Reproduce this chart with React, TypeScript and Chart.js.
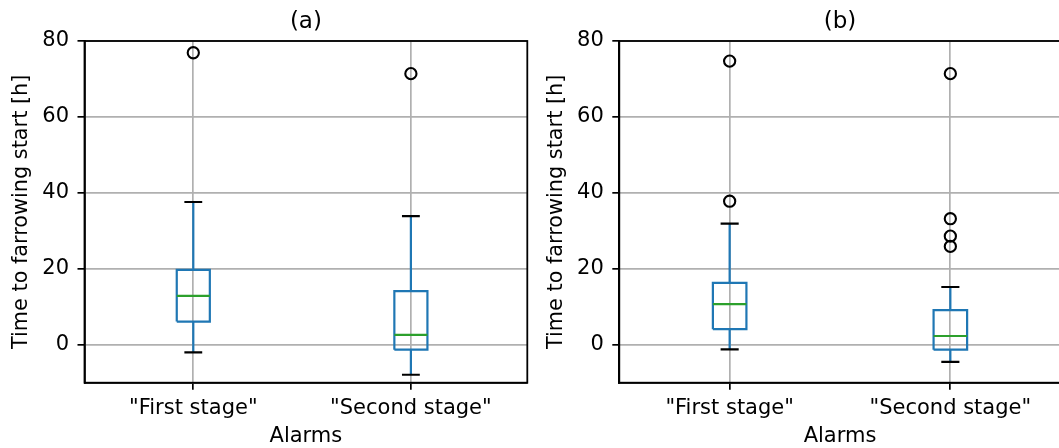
import React, { useEffect, useRef } from 'react';
import { Chart, registerables } from 'chart.js';
Chart.register(...registerables);

// ---------- data ----------
const categories = ['"First stage"', '"Second stage"'];
const yTicks = [0, 20, 40, 60, 80];

// panel (a)
const aWhiskerLow = [-2.0, -7.9];
const aQ1 = [6.1, -1.3];
const aMedian = [12.85, 2.6];
const aQ3 = [19.7, 14.1];
const aWhiskerHigh = [37.6, 33.9];
const aOutliers = [[76.9], [71.4]];

// panel (b)
const bWhiskerLow = [-1.2, -4.5];
const bQ1 = [4.1, -1.3];
const bMedian = [10.7, 2.3];
const bQ3 = [16.3, 9.1];
const bWhiskerHigh = [31.9, 15.2];
const bOutliers = [[37.8, 74.7], [25.9, 28.6, 33.2, 71.4]];

// ---------- styling ----------
const FONT = 'DejaVu Sans';
const BLUE = '#1f77b4';
const GREEN = '#2ca02c';
const GRID = '#b0b0b0';
const BOX_HALF = 0.076;
const CAP_HALF = 0.041;

type Stats = {
  lo: number[];
  q1: number[];
  med: number[];
  q3: number[];
  hi: number[];
  out: number[][];
};

const GAP = (x: number) => ({ x, y: null as any });

function buildDatasets(s: Stats) {
  const boxes: any[] = [];
  const whiskers: any[] = [];
  const caps: any[] = [];
  const medians: any[] = [];
  const fliers: any[] = [];
  categories.forEach((_, i) => {
    const x = i + 1;
    boxes.push(
      { x: x - BOX_HALF, y: s.q1[i] },
      { x: x + BOX_HALF, y: s.q1[i] },
      { x: x + BOX_HALF, y: s.q3[i] },
      { x: x - BOX_HALF, y: s.q3[i] },
      { x: x - BOX_HALF, y: s.q1[i] },
      GAP(x)
    );
    whiskers.push(
      { x, y: s.q3[i] },
      { x, y: s.hi[i] },
      GAP(x),
      { x, y: s.q1[i] },
      { x, y: s.lo[i] },
      GAP(x)
    );
    caps.push(
      { x: x - CAP_HALF, y: s.hi[i] },
      { x: x + CAP_HALF, y: s.hi[i] },
      GAP(x),
      { x: x - CAP_HALF, y: s.lo[i] },
      { x: x + CAP_HALF, y: s.lo[i] },
      GAP(x)
    );
    medians.push(
      { x: x - BOX_HALF, y: s.med[i] },
      { x: x + BOX_HALF, y: s.med[i] },
      GAP(x)
    );
    s.out[i].forEach((v) => fliers.push({ x, y: v }));
  });
  const lineBase = {
    type: 'line' as const,
    showLine: true,
    pointRadius: 0,
    pointHoverRadius: 0,
    borderWidth: 2.2,
    spanGaps: false,
    tension: 0,
    fill: false,
  };
  return [
    {
      type: 'scatter' as const,
      label: 'fliers',
      data: fliers,
      pointStyle: 'circle',
      pointRadius: 5.6,
      borderWidth: 2.1,
      borderColor: '#000',
      backgroundColor: 'rgba(0,0,0,0)',
    },
    { ...lineBase, label: 'medians', data: medians, borderColor: GREEN },
    { ...lineBase, label: 'boxes', data: boxes, borderColor: BLUE },
    { ...lineBase, label: 'caps', data: caps, borderColor: '#000' },
    { ...lineBase, label: 'whiskers', data: whiskers, borderColor: BLUE },
  ];
}

const framePlugin = {
  id: 'frame',
  afterDraw(chart: any) {
    const { ctx, chartArea } = chart;
    ctx.save();
    ctx.strokeStyle = '#000';
    ctx.lineWidth = 1.8;
    ctx.strokeRect(
      chartArea.left,
      chartArea.top,
      chartArea.right - chartArea.left,
      chartArea.bottom - chartArea.top
    );
    ctx.restore();
  },
};

type PanelProps = {
  left: number;
  width: number;
  title: string;
  stats: Stats;
  xMax: number;
  yAxisWidth: number;
  padRight: number;
};

function Panel({ left, width, title, stats, xMax, yAxisWidth, padRight }: PanelProps) {
  const ref = useRef<HTMLCanvasElement | null>(null);
  useEffect(() => {
    if (!ref.current) return;
    const chart = new Chart(ref.current, {
      type: 'scatter',
      data: { datasets: buildDatasets(stats) as any },
      options: {
        animation: false,
        responsive: false,
        devicePixelRatio: 1,
        layout: { padding: { left: 0, right: padRight, top: 0, bottom: 0 } },
        plugins: {
          legend: { display: false },
          tooltip: { enabled: false },
          title: {
            display: true,
            fullSize: false,
            text: title,
            color: '#000',
            font: { family: FONT, size: 23, weight: 'normal' },
            padding: { top: 8, bottom: 5.4 },
          },
        },
        scales: {
          x: {
            type: 'linear',
            min: 0.5,
            max: xMax,
            afterFit: (s: any) => {
              s.height = 65.3;
            },
            afterBuildTicks: (s: any) => {
              s.ticks = categories.map((_, i) => ({ value: i + 1 }));
            },
            ticks: {
              color: '#000',
              font: { family: FONT, size: 21 },
              padding: 6,
              maxRotation: 0,
              callback: (v: any) => categories[Number(v) - 1] ?? '',
            },
            grid: {
              color: GRID,
              lineWidth: 1.7,
              tickColor: '#000',
              tickLength: 7,
              drawTicks: true,
            },
            border: { display: true, color: '#000', width: 1.8 },
            title: {
              display: true,
              text: 'Alarms',
              color: '#000',
              font: { family: FONT, size: 21 },
              padding: { top: 0, bottom: -1.5 },
            },
          },
          y: {
            type: 'linear',
            min: -10,
            max: 80,
            afterFit: (s: any) => {
              s.width = yAxisWidth;
            },
            afterBuildTicks: (s: any) => {
              s.ticks = yTicks.map((v) => ({ value: v }));
            },
            ticks: {
              color: '#000',
              font: { family: FONT, size: 21 },
              padding: 8.5,
            },
            grid: {
              color: GRID,
              lineWidth: 1.7,
              tickColor: '#000',
              tickLength: 7,
              drawTicks: true,
            },
            border: { display: true, color: '#000', width: 1.8 },
            title: {
              display: true,
              text: 'Time to farrowing start [h]',
              color: '#000',
              font: { family: FONT, size: 20.8 },
              padding: { top: 9.6, bottom: 0 },
            },
          },
        },
      } as any,
      plugins: [framePlugin],
    });
    return () => chart.destroy();
  }, []);
  return (
    <div style={{ position: 'absolute', left, top: 0, width, height: 448 }}>
      <canvas ref={ref} width={width} height={448} />
    </div>
  );
}

export default function App() {
  const statsA: Stats = {
    lo: aWhiskerLow,
    q1: aQ1,
    med: aMedian,
    q3: aQ3,
    hi: aWhiskerHigh,
    out: aOutliers,
  };
  const statsB: Stats = {
    lo: bWhiskerLow,
    q1: bQ1,
    med: bMedian,
    q3: bQ3,
    hi: bWhiskerHigh,
    out: bOutliers,
  };
  return (
    <div
      style={{
        position: 'fixed',
        left: 0,
        top: 0,
        width: 1059,
        height: 448,
        overflow: 'hidden',
        background: '#fff',
      }}
    >
      <Panel left={0} width={535} title="(a)" stats={statsA} xMax={2.535} yAxisWidth={84.5} padRight={3.5} />
      <Panel left={535} width={535} title="(b)" stats={statsB} xMax={2.5} yAxisWidth={84.3} padRight={9.3} />
    </div>
  );
}
